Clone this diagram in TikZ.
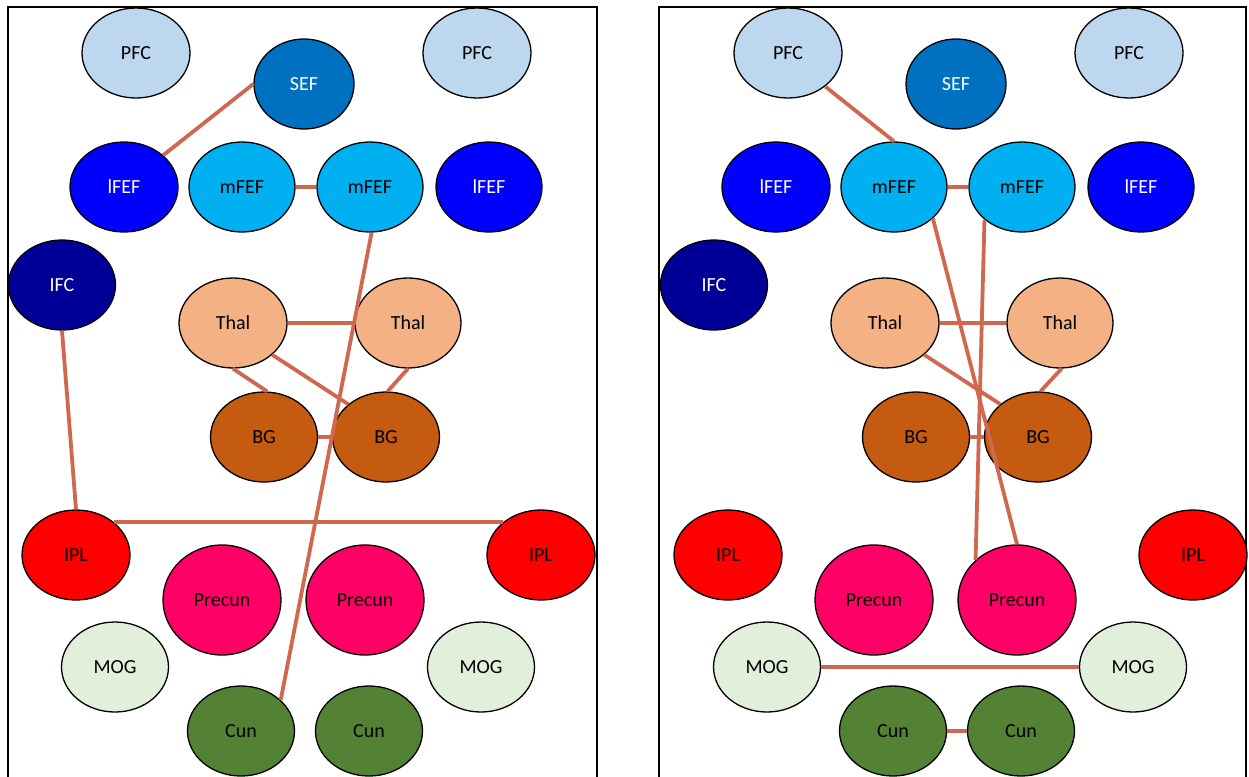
\documentclass[tikz,border=0pt]{standalone}
\usepackage{fontspec}
\setmainfont{Carlito}
\usetikzlibrary{shapes.geometric}

% region colours
\definecolor{cPFC}{HTML}{BDD7EE}
\definecolor{cSEF}{HTML}{0070C0}
\definecolor{cLFEF}{HTML}{0000FF}
\definecolor{cMFEF}{HTML}{00B0F0}
\definecolor{cIFC}{HTML}{000099}
\definecolor{cThal}{HTML}{F4B183}
\definecolor{cBG}{HTML}{C55A11}
\definecolor{cIPL}{HTML}{FF0000}
\definecolor{cPrec}{HTML}{FF0066}
\definecolor{cMOG}{HTML}{E2EFDA}
\definecolor{cCun}{HTML}{548235}
\definecolor{cLink}{HTML}{D0674F}

\tikzset{
  region/.style={ellipse, draw=black, line width=1.3pt, inner sep=0pt,
    minimum width=108pt, minimum height=90pt,
    font=\fontsize{20}{24}\selectfont, text=black},
  light/.style={text=white},
  link/.style={draw=cLink, line width=3.8pt},
  frame/.style={draw=black, line width=1.8pt}
}

% the twenty regions of one panel
\newcommand{\brainregions}{%
  \node[region, fill=cPFC] (pfcL) at (136,53) {PFC};
  \node[region, fill=cSEF, light, minimum width=100pt] (sef) at (304,84) {SEF};
  \node[region, fill=cPFC] (pfcR) at (477,53) {PFC};
  \node[region, fill=cLFEF, light] (fefL) at (124,187) {lFEF};
  \node[region, fill=cMFEF, minimum width=106pt] (mfefL) at (242,187) {mFEF};
  \node[region, fill=cMFEF, minimum width=106pt] (mfefR) at (370,187) {mFEF};
  \node[region, fill=cLFEF, light, minimum width=106pt] (fefR) at (489,187) {lFEF};
  \node[region, fill=cIFC, light, minimum width=107pt] (ifc) at (62,285) {IFC};
  \node[region, fill=cThal] (thalL) at (233,323) {Thal};
  \node[region, fill=cThal, minimum width=106pt] (thalR) at (408,323) {Thal};
  \node[region, fill=cBG, minimum width=107pt] (bgL) at (264,437) {BG};
  \node[region, fill=cBG, minimum width=107pt] (bgR) at (386,437) {BG};
  \node[region, fill=cIPL] (iplL) at (76,555) {IPL};
  \node[region, fill=cIPL] (iplR) at (541,555) {IPL};
  \node[region, fill=cPrec, minimum width=118pt, minimum height=110pt] (precL) at (222,600) {Precun};
  \node[region, fill=cPrec, minimum width=118pt, minimum height=110pt] (precR) at (365,600) {Precun};
  \node[region, fill=cMOG, minimum width=107pt] (mogL) at (115,667) {MOG};
  \node[region, fill=cMOG, minimum width=107pt] (mogR) at (481,667) {MOG};
  \node[region, fill=cCun, minimum width=107pt] (cunL) at (241,731) {Cun};
  \node[region, fill=cCun, minimum width=107pt] (cunR) at (369,731) {Cun};
}

\begin{document}
\begin{tikzpicture}[x=1pt, y=-1pt]
  \useasboundingbox (0,0) rectangle (1249,776);

  % panel frames (open at the bottom)
  \draw[frame] (8,780) -- (8,7) -- (597,7) -- (597,780);
  \draw[frame] (659,780) -- (659,7) -- (1246,7) -- (1246,780);

  \begin{scope}[name prefix=L-]
    \brainregions
  \end{scope}
  \begin{scope}[xshift=652pt, name prefix=R-]
    \brainregions
  \end{scope}

  % connections, left panel
  \draw[link] (L-sef.west) -- (L-fefL.39);
  \draw[link] (L-mfefL.east) -- (L-mfefR.west);
  \draw[link] (L-mfefR.-88) -- (L-cunL.38);
  \draw[link] (L-thalL.east) -- (L-thalR.west);
  \draw[link] (L-thalL.-39) -- (L-bgR.139);
  \draw[link] (L-thalL.south) -- (L-bgL.86);
  \draw[link] (L-thalR.south) -- (L-bgR.88);
  \draw[link] (L-bgL.east) -- (L-bgR.west);
  \draw[link] (L-ifc.south) -- (L-iplL.north);
  \draw[link] (L-iplL.41) -- (L-iplR.139);

  % connections, right panel
  \draw[link] (R-pfcL.-42) -- (R-mfefL.north);
  \draw[link] (R-mfefL.east) -- (R-mfefR.west);
  \draw[link] (R-mfefL.-39) -- (R-precR.north);
  \draw[link] (R-mfefR.-139) -- (R-precR.136);
  \draw[link] (R-thalL.east) -- (R-thalR.west);
  \draw[link] (R-thalL.-39) -- (R-bgR.139);
  \draw[link] (R-thalR.-88) -- (R-bgR.87);
  \draw[link] (R-bgL.east) -- (R-bgR.west);
  \draw[link] (R-mogL.east) -- (R-mogR.west);
  \draw[link] (R-cunL.east) -- (R-cunR.west);
\end{tikzpicture}
\end{document}
